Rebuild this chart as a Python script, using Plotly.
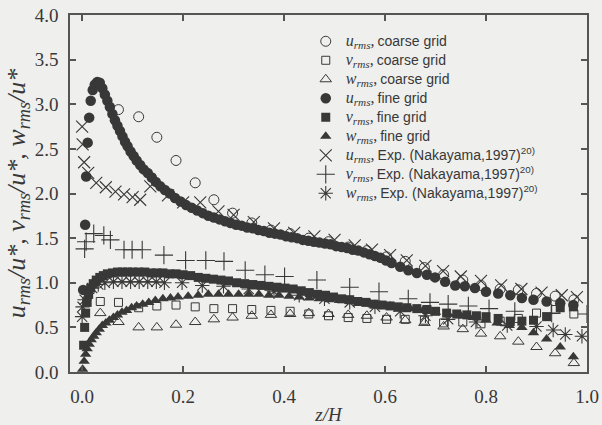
import plotly.graph_objects as go

# ---------------- data ----------------
# coarse grid
coarse_z = [0.072, 0.112, 0.148, 0.186, 0.224, 0.261, 0.298, 0.336, 0.374, 0.412,
            0.449, 0.488, 0.527, 0.564, 0.603, 0.640, 0.678, 0.716, 0.754, 0.790,
            0.828, 0.864, 0.900, 0.937, 0.974]
coarse_u = [2.94, 2.86, 2.63, 2.37, 2.12, 1.93, 1.78, 1.67, 1.59, 1.55,
            1.50, 1.46, 1.40, 1.36, 1.29, 1.24, 1.17, 1.09, 1.03, 0.97,
            0.93, 0.92, 0.88, 0.85, 0.81]
coarse_vw_z = [0.036] + coarse_z
coarse_v = [0.79, 0.78, 0.72, 0.74, 0.75, 0.73, 0.71, 0.71, 0.70, 0.69, 0.68,
            0.65, 0.63, 0.61, 0.60, 0.59, 0.59, 0.58, 0.55, 0.56, 0.54,
            0.57, 0.60, 0.66, 0.70, 0.65]
coarse_w = [0.66, 0.56, 0.50, 0.50, 0.53, 0.56, 0.59, 0.61, 0.63, 0.64, 0.65,
            0.66, 0.65, 0.64, 0.63, 0.61, 0.58, 0.55, 0.51, 0.48, 0.43,
            0.40, 0.34, 0.28, 0.21, 0.10]

# fine grid
fine_u_z = [0.002, 0.006, 0.008, 0.011, 0.014, 0.017, 0.021, 0.025, 0.030, 0.035,
            0.040, 0.045, 0.050, 0.055, 0.060, 0.065, 0.070, 0.075, 0.080, 0.085,
            0.090, 0.096, 0.102, 0.108, 0.115, 0.122, 0.130, 0.138, 0.146, 0.155,
            0.164, 0.174, 0.184, 0.195, 0.206, 0.217, 0.228, 0.239, 0.250, 0.261,
            0.272, 0.283, 0.294, 0.305, 0.316, 0.327, 0.338, 0.349, 0.360, 0.371,
            0.382, 0.393, 0.404, 0.415, 0.426, 0.437, 0.448, 0.459, 0.470, 0.481,
            0.492, 0.503, 0.514, 0.525, 0.536, 0.547, 0.558, 0.569, 0.580, 0.591,
            0.602, 0.613, 0.630, 0.646, 0.663, 0.683, 0.699, 0.719, 0.739, 0.758,
            0.778, 0.800, 0.824, 0.848, 0.871, 0.894, 0.920, 0.947, 0.973]
fine_u = [0.92, 1.65, 2.19, 2.57, 2.85, 3.04, 3.16, 3.22, 3.25, 3.24,
          3.18, 3.11, 3.04, 2.97, 2.89, 2.82, 2.76, 2.70, 2.64, 2.58,
          2.53, 2.47, 2.42, 2.37, 2.32, 2.27, 2.23, 2.18, 2.13, 2.08,
          2.04, 2.00, 1.95, 1.91, 1.87, 1.84, 1.81, 1.78, 1.75, 1.73,
          1.71, 1.69, 1.67, 1.65, 1.64, 1.62, 1.61, 1.59, 1.58, 1.56,
          1.55, 1.54, 1.52, 1.51, 1.50, 1.48, 1.47, 1.46, 1.45, 1.44,
          1.43, 1.41, 1.40, 1.39, 1.37, 1.36, 1.34, 1.32, 1.30, 1.28,
          1.25, 1.22, 1.18, 1.14, 1.11, 1.09, 1.06, 1.01, 0.97, 0.96,
          0.94, 0.90, 0.88, 0.86, 0.83, 0.81, 0.79, 0.77, 0.75]

fine_v_z = [0.003, 0.005, 0.007, 0.010, 0.013, 0.017, 0.022, 0.028, 0.035, 0.042,
            0.050, 0.060, 0.070, 0.080, 0.090, 0.100, 0.112, 0.124, 0.136, 0.148,
            0.160, 0.173, 0.186, 0.200, 0.215, 0.230, 0.245, 0.260, 0.275, 0.290,
            0.306, 0.322, 0.338, 0.354, 0.370, 0.386, 0.402, 0.418, 0.434, 0.450,
            0.466, 0.482, 0.498, 0.514, 0.530, 0.546, 0.562, 0.578, 0.594, 0.610,
            0.626, 0.643, 0.663, 0.683, 0.700, 0.722, 0.742, 0.762, 0.781, 0.800,
            0.824, 0.848, 0.871, 0.894, 0.920, 0.947, 0.973]
fine_v = [0.30, 0.50, 0.66, 0.78, 0.87, 0.94, 0.99, 1.03, 1.06, 1.08,
          1.10, 1.11, 1.12, 1.12, 1.12, 1.12, 1.12, 1.12, 1.11, 1.11,
          1.11, 1.10, 1.10, 1.09, 1.08, 1.06, 1.05, 1.04, 1.03, 1.02,
          1.00, 0.99, 0.98, 0.97, 0.96, 0.95, 0.94, 0.93, 0.91, 0.89,
          0.87, 0.86, 0.84, 0.82, 0.81, 0.79, 0.78, 0.76, 0.75, 0.74,
          0.73, 0.72, 0.71, 0.70, 0.68, 0.66, 0.65, 0.64, 0.63, 0.62,
          0.60, 0.57, 0.57, 0.58, 0.62, 0.72, 0.73]

fine_w_z = [0.001, 0.004, 0.007, 0.010, 0.014, 0.018, 0.023, 0.028, 0.034, 0.040,
            0.047, 0.054, 0.062, 0.070, 0.079, 0.088, 0.098, 0.108, 0.120, 0.132,
            0.145, 0.160, 0.175, 0.190, 0.210, 0.230, 0.250, 0.270, 0.290, 0.310,
            0.330, 0.350, 0.370, 0.390, 0.410, 0.430, 0.450, 0.470, 0.490, 0.510,
            0.530, 0.550, 0.570, 0.590, 0.610, 0.630, 0.650, 0.675, 0.700, 0.725,
            0.750, 0.775, 0.800, 0.822, 0.846, 0.871, 0.894, 0.920, 0.947, 0.973]
fine_w = [0.03, 0.12, 0.20, 0.26, 0.31, 0.36, 0.40, 0.44, 0.48, 0.52,
          0.55, 0.58, 0.61, 0.64, 0.67, 0.69, 0.72, 0.74, 0.76, 0.78,
          0.80, 0.82, 0.83, 0.84, 0.85, 0.86, 0.87, 0.87, 0.87, 0.87,
          0.87, 0.87, 0.86, 0.86, 0.85, 0.84, 0.83, 0.82, 0.81, 0.80,
          0.79, 0.78, 0.77, 0.75, 0.74, 0.72, 0.71, 0.69, 0.67, 0.65,
          0.63, 0.61, 0.58, 0.55, 0.52, 0.50, 0.44, 0.37, 0.28, 0.17]

# experiment (Nakayama, 1997)
exp_u_z = [0.000, 0.001, 0.004, 0.012, 0.028, 0.047, 0.066, 0.083, 0.100, 0.115,
           0.135, 0.170, 0.200, 0.234, 0.270, 0.300, 0.340, 0.380, 0.420, 0.460,
           0.500, 0.540, 0.574, 0.610, 0.643, 0.680, 0.715, 0.750, 0.790, 0.830,
           0.870, 0.910, 0.950, 0.980]
exp_u = [2.75, 2.55, 2.35, 2.23, 2.12, 2.07, 2.02, 1.99, 1.96, 1.93,
         2.08, 1.98, 1.90, 1.90, 1.80, 1.76, 1.68, 1.61, 1.56, 1.52,
         1.48, 1.42, 1.37, 1.31, 1.25, 1.19, 1.13, 1.07, 1.02, 0.97,
         0.93, 0.89, 0.86, 0.84]

exp_v_z = [0.005, 0.008, 0.023, 0.043, 0.056, 0.083, 0.099, 0.119, 0.162, 0.205,
           0.245, 0.281, 0.323, 0.362, 0.401, 0.465, 0.530, 0.588, 0.646, 0.689,
           0.725, 0.765, 0.806, 0.857, 0.930, 1.000]
exp_v = [1.38, 1.46, 1.55, 1.53, 1.48, 1.37, 1.37, 1.37, 1.31, 1.25,
         1.25, 1.24, 1.14, 1.09, 1.07, 1.03, 0.95, 0.90, 0.82, 0.78,
         0.76, 0.74, 0.71, 0.68, 0.66, 0.65]

exp_w_z = [0.000, 0.001, 0.005, 0.010, 0.020, 0.032, 0.045, 0.062, 0.079, 0.096,
           0.113, 0.130, 0.147, 0.163, 0.198, 0.238, 0.280, 0.330, 0.380, 0.430,
           0.480, 0.530, 0.580, 0.630, 0.680, 0.725, 0.780, 0.842, 0.900, 0.933,
           0.957, 0.990]
exp_w = [0.62, 0.73, 0.81, 0.88, 0.94, 0.98, 1.00, 1.01, 1.01, 1.01,
         1.01, 1.01, 1.01, 1.00, 1.00, 0.97, 0.96, 0.93, 0.90, 0.86,
         0.82, 0.78, 0.73, 0.68, 0.63, 0.59, 0.56, 0.52, 0.51, 0.47,
         0.42, 0.40]

x_ticks = [0.0, 0.2, 0.4, 0.6, 0.8, 1.0]
x_ticklabels = ["0.0", "0.2", "0.4", "0.6", "0.8", "1.0"]
y_ticks = [0.0, 0.5, 1.0, 1.5, 2.0, 2.5, 3.0, 3.5, 4.0]
y_ticklabels = ["0.0", "0.5", "1.0", "1.5", "2.0", "2.5", "3.0", "3.5", "4.0"]

# ---------------- styling ----------------
INK = "#383838"
BG = "#efefed"
SANS = "Liberation Sans"
SERIF = "Liberation Serif"


def lab(var, what):
    return (f"<span style=\"font-size:16px\"><i>{var}</i><sub><i>rms</i></sub>,</span> "
            f"<span style=\"font-family:{SANS};font-size:14px\">{what}</span>")


EXP = "Exp. (Nakayama,1997)<sup>20)</sup>"

fig = go.Figure()


def add(x, y, name, symbol, size, lw=1.0, color=INK):
    fig.add_trace(go.Scatter(
        x=x, y=y, mode="markers", name=name,
        marker=dict(symbol=symbol, size=size, color=color,
                    line=dict(color=color, width=lw)),
    ))


add(coarse_z, coarse_u, lab("u", "coarse grid"), "circle-open", 10)
add(coarse_vw_z, coarse_v, lab("v", "coarse grid"), "square-open", 8)
add(coarse_vw_z, coarse_w, lab("w", "coarse grid"), "triangle-up-open", 10)
add(fine_u_z, fine_u, lab("u", "fine grid"), "circle", 10.5, 0)
add(fine_v_z, fine_v, lab("v", "fine grid"), "square", 9, 0)
add(fine_w_z, fine_w, lab("w", "fine grid"), "triangle-up", 10, 0)
add(exp_u_z, exp_u, lab("u", EXP), "x-thin-open", 12, 1.1)
add(exp_v_z, exp_v, lab("v", EXP), "cross-thin-open", 13, 1.1)
add(exp_w_z, exp_w, lab("w", EXP), "asterisk-open", 12, 1.1)

axis_common = dict(
    showline=True, linecolor="#555555", linewidth=1.5, mirror="allticks",
    ticks="inside", ticklen=6, tickwidth=1.5, tickcolor="#555555",
    showgrid=False, zeroline=False, automargin=False,
    tickfont=dict(family=SERIF, size=19, color=INK),
)

fig.update_layout(
    width=602, height=425,
    margin=dict(l=70, r=15, t=15, b=53),
    paper_bgcolor=BG, plot_bgcolor=BG,
    font=dict(family=SERIF, color=INK),
    showlegend=True,
    legend=dict(
        x=0.456, y=0.967, xanchor="left", yanchor="top",
        bgcolor="rgba(0,0,0,0)", borderwidth=0,
        font=dict(family=SERIF, size=12, color=INK),
        itemsizing="trace", tracegroupgap=0,
    ),
    xaxis=dict(
        range=[-0.024, 1.0], tickvals=x_ticks, ticktext=x_ticklabels,
        ticklabelstandoff=6,
        title=dict(text="<i>z/H</i>", font=dict(family=SERIF, size=19, color=INK),
                   standoff=2),
        **axis_common,
    ),
    yaxis=dict(
        range=[0.0, 4.0], tickvals=y_ticks, ticktext=y_ticklabels,
        ticklabelstandoff=6,
        title=dict(text="<i>u</i><sub><i>rms</i></sub><i>/u*, v</i><sub><i>rms</i></sub>"
                        "<i>/u*, w</i><sub><i>rms</i></sub><i>/u*</i>",
                   font=dict(family=SERIF, size=26, color=INK), standoff=2),
        **axis_common,
    ),
)

fig.write_html("out.html")
